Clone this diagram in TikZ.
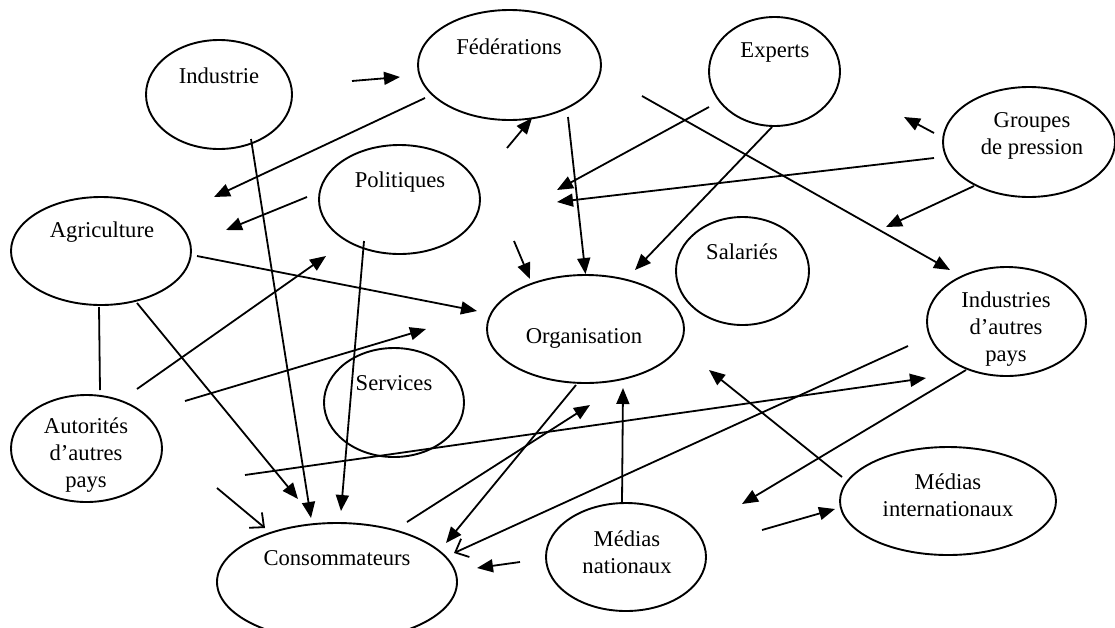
\documentclass[tikz,border=0pt]{standalone}
\usepackage{fontspec}
\setmainfont{Liberation Serif}
\usetikzlibrary{shapes.geometric,arrows.meta}
\tikzset{
  bulle/.style={draw, ellipse, line width=1.9pt, inner sep=0pt},
  texte/.style={align=center, inner sep=0pt, font=\fontsize{22.6}{27}\selectfont},
  fleche/.style={-{Triangle[length=16pt, width=13pt]}, line width=1.8pt},
  ouverte/.style={-{Straight Barb[length=11pt, width=20pt, line width=1.8pt]}, line width=1.8pt},
  trait/.style={line width=1.8pt}
}

\begin{document}
\begin{tikzpicture}[x=1pt, y=-1pt]
  \useasboundingbox (0,0) rectangle (1115,627);

  % acteurs
  \node[bulle, minimum width=146pt, minimum height=109pt] (industrie) at (219,94.5) {};
  \node[texte] (t-industrie) at (219,76) {Industrie};
  \node[bulle, minimum width=183pt, minimum height=110pt] (federations) at (509.5,65) {};
  \node[texte] (t-federations) at (509,47) {Fédérations};
  \node[bulle, minimum width=131pt, minimum height=109pt] (experts) at (774.5,71.5) {};
  \node[texte] (t-experts) at (775,53) {Experts};
  \node[bulle, minimum width=172pt, minimum height=110pt] (groupes) at (1029,142) {};
  \node[texte] (t-groupes) at (1032,136) {Groupes\\de pression};
  \node[bulle, minimum width=161pt, minimum height=109pt] (politiques) at (399.5,199.5) {};
  \node[texte] (t-politiques) at (400,182) {Politiques};
  \node[bulle, minimum width=180pt, minimum height=108pt] (agriculture) at (101,251) {};
  \node[texte] (t-agriculture) at (102,232) {Agriculture};
  \node[bulle, minimum width=197pt, minimum height=108pt] (organisation) at (585.5,329) {};
  \node[texte] (t-organisation) at (584,338) {Organisation};
  \node[bulle, minimum width=133pt, minimum height=108pt] (salaries) at (742.5,271) {};
  \node[texte] (t-salaries) at (742,252) {Salariés};
  \node[bulle, minimum width=159pt, minimum height=109pt] (industries) at (1006.5,321.5) {};
  \node[texte] (t-industries) at (1006,329) {Industries\\d’autres\\pays};
  \node[bulle, minimum width=140pt, minimum height=109pt] (services) at (394,402.5) {};
  \node[texte] (t-services) at (394,383) {Services};
  \node[bulle, minimum width=151pt, minimum height=107pt] (autorites) at (86.5,448.5) {};
  \node[texte] (t-autorites) at (86,455.5) {Autorités\\d’autres\\pays};
  \node[bulle, minimum width=240pt, minimum height=118pt] (consommateurs) at (337,582) {};
  \node[texte] (t-consommateurs) at (337,558) {Consommateurs};
  \node[bulle, minimum width=160pt, minimum height=108pt] (mnationaux) at (626,557) {};
  \node[texte] (t-mnationaux) at (627,552) {Médias\\nationaux};
  \node[bulle, minimum width=216pt, minimum height=108pt] (minter) at (948,501) {};
  \node[texte] (t-minter) at (948,495) {Médias\\internationaux};

  % extremites des fleches
  \coordinate (ind-fed-a) at (352,81);   \coordinate (ind-fed-b) at (400,77);
  \coordinate (fed-agr-a) at (425,98);   \coordinate (fed-agr-b) at (214,197);
  \coordinate (pol-agr-a) at (307,197);  \coordinate (pol-agr-b) at (226,230);
  \coordinate (ind-con-a) at (251,139);  \coordinate (ind-con-b) at (311,518);
  \coordinate (agr-org-a) at (197,256);  \coordinate (agr-org-b) at (477,311);
  \coordinate (pol-con-a) at (364,241);  \coordinate (pol-con-b) at (341,511);
  \coordinate (ver-fed-a) at (507,148);  \coordinate (ver-fed-b) at (532,118);
  \coordinate (ver-org-a) at (514,241);  \coordinate (ver-org-b) at (530,279);
  \coordinate (fed-org-a) at (568,117);
  \coordinate (fed-ina-a) at (642,96);   \coordinate (fed-ina-b) at (950,270);
  \coordinate (exp-gau-a) at (709,107);  \coordinate (exp-gau-b) at (557,190);
  \coordinate (grp-gau-a) at (934,158);  \coordinate (grp-gau-b) at (557,202);
  \coordinate (grp-hau-a) at (934,133);  \coordinate (grp-hau-b) at (904,117);
  \coordinate (grp-bas-a) at (974,186);  \coordinate (grp-bas-b) at (886,227);
  \coordinate (exp-org-a) at (772,127);  \coordinate (exp-org-b) at (635,270);
  \coordinate (agr-aut-a) at (99,307);   \coordinate (agr-aut-b) at (100,390);
  \coordinate (agr-con-a) at (137,303);  \coordinate (agr-con-b) at (298,499);
  \coordinate (aut-pol-a) at (137,389);  \coordinate (aut-pol-b) at (326,256);
  \coordinate (aut-org-a) at (185,401);  \coordinate (aut-org-b) at (426,329);
  \coordinate (aut-ina-a) at (245,475);  \coordinate (aut-ina-b) at (926,378);
  \coordinate (aut-con-a) at (217,488);  \coordinate (aut-con-b) at (265,528);
  \coordinate (org-con-a) at (576,385);  \coordinate (org-con-b) at (446,543);
  \coordinate (con-org-a) at (407,522);  \coordinate (con-org-b) at (590,405);
  \coordinate (ina-con-a) at (908,346);  \coordinate (ina-con-b) at (454,553);
  \coordinate (mna-org-a) at (622,503);  \coordinate (mna-org-b) at (623,388);
  \coordinate (mna-con-a) at (520,562);  \coordinate (mna-con-b) at (477,568);
  \coordinate (min-org-a) at (842,477);  \coordinate (min-org-b) at (709,370);
  \coordinate (ina-bas-a) at (966,370);  \coordinate (ina-bas-b) at (742,504);
  \coordinate (ver-min-a) at (762,530);  \coordinate (ver-min-b) at (835,509);

  % fleches
  \draw[fleche] (ind-fed-a) -- (ind-fed-b);
  \draw[fleche] (fed-agr-a) -- (fed-agr-b);
  \draw[fleche] (pol-agr-a) -- (pol-agr-b);
  \draw[fleche] (ind-con-a) -- (ind-con-b);
  \draw[fleche] (agr-org-a) -- (agr-org-b);
  \draw[fleche] (pol-con-a) -- (pol-con-b);
  \draw[fleche] (ver-fed-a) -- (ver-fed-b);
  \draw[fleche] (ver-org-a) -- (ver-org-b);
  \draw[fleche] (fed-org-a) -- (organisation.north);
  \draw[fleche] (fed-ina-a) -- (fed-ina-b);
  \draw[fleche] (exp-gau-a) -- (exp-gau-b);
  \draw[fleche] (grp-gau-a) -- (grp-gau-b);
  \draw[fleche] (grp-hau-a) -- (grp-hau-b);
  \draw[fleche] (grp-bas-a) -- (grp-bas-b);
  \draw[fleche] (exp-org-a) -- (exp-org-b);
  \draw[trait] (agr-aut-a) -- (agr-aut-b);
  \draw[fleche] (agr-con-a) -- (agr-con-b);
  \draw[fleche] (aut-pol-a) -- (aut-pol-b);
  \draw[fleche] (aut-org-a) -- (aut-org-b);
  \draw[fleche] (aut-ina-a) -- (aut-ina-b);
  \draw[ouverte] (aut-con-a) -- (aut-con-b);
  \draw[fleche] (org-con-a) -- (org-con-b);
  \draw[fleche] (con-org-a) -- (con-org-b);
  \draw[ouverte] (ina-con-a) -- (ina-con-b);
  \draw[fleche] (mna-org-a) -- (mna-org-b);
  \draw[fleche] (mna-con-a) -- (mna-con-b);
  \draw[fleche] (min-org-a) -- (min-org-b);
  \draw[fleche] (ina-bas-a) -- (ina-bas-b);
  \draw[fleche] (ver-min-a) -- (ver-min-b);
\end{tikzpicture}
\end{document}
